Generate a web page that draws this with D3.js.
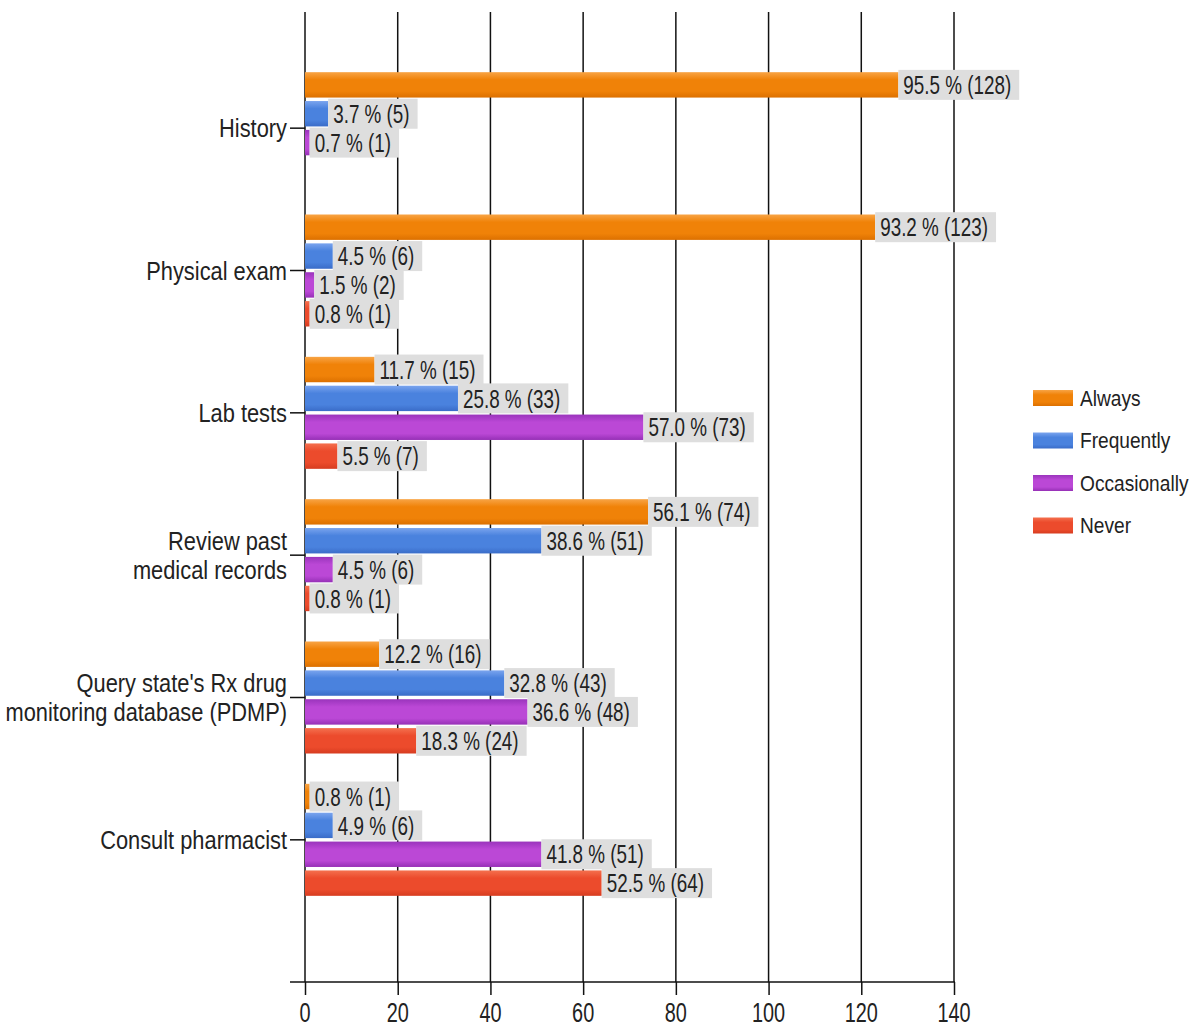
<!DOCTYPE html>
<html>
<head>
<meta charset="utf-8">
<script src="https://cdn.jsdelivr.net/npm/d3@7"></script>
<style>
  html, body { margin: 0; padding: 0; background: #fff; }
  svg { display: block; }
  .lbl { font-family: "Liberation Sans", Arial, sans-serif; fill: #222; }
</style>
</head>
<body>
<svg id="chart" width="1196" height="1029"></svg>
<script>
// Survey items (y axis)
const categories = [
  ["History"],
  ["Physical exam"],
  ["Lab tests"],
  ["Review past", "medical records"],
  ["Query state's Rx drug", "monitoring database (PDMP)"],
  ["Consult pharmacist"]
];

const seriesNames = ["Always", "Frequently", "Occasionally", "Never"];
const seriesColors = {
  Always:       ["#f8a445", "#f08208", "#dc7000"],
  Frequently:   ["#7aa4ee", "#4a82de", "#3a6cc8"],
  Occasionally: ["#9a34bc", "#bb48d6", "#9630b6"],
  Never:        ["#f4704e", "#ec4b2c", "#d63c20"]
};

// Percent of respondents per answer
const alwaysPct       = [95.5, 93.2, 11.7, 56.1, 12.2, 0.8];
const frequentlyPct   = [3.7, 4.5, 25.8, 38.6, 32.8, 4.9];
const occasionallyPct = [0.7, 1.5, 57.0, 4.5, 36.6, 41.8];
const neverPct        = [null, 0.8, 5.5, 0.8, 18.3, 52.5];

// Respondent counts per answer (bar length)
const alwaysN       = [128, 123, 15, 74, 16, 1];
const frequentlyN   = [5, 6, 33, 51, 43, 6];
const occasionallyN = [1, 2, 73, 6, 48, 51];
const neverN        = [null, 1, 7, 1, 24, 64];

const xTicks = [0, 20, 40, 60, 80, 100, 120, 140];

const pctBySeries = { Always: alwaysPct, Frequently: frequentlyPct, Occasionally: occasionallyPct, Never: neverPct };
const nBySeries   = { Always: alwaysN, Frequently: frequentlyN, Occasionally: occasionallyN, Never: neverN };

const svg = d3.select("#chart");
const catKeys = categories.map(c => c.join(" "));

const x = d3.scaleLinear().domain([0, 140]).range([305, 954]);
const y = d3.scaleBand().domain(catKeys).range([57, 911]).paddingInner(0).paddingOuter(0);
const ySub = d3.scaleBand().domain(seriesNames).range([-56, 56]).paddingInner(0.12);

const plotTop = 12, plotBottom = 982;

// narrow text helper: a group positioned at (tx, ty), squeezed horizontally
function narrowText(parent, tx, ty, size, squeeze, anchor, str) {
  const g = parent.append("g").attr("transform", `translate(${tx},${ty}) scale(${squeeze},1)`);
  return g.append("text").attr("class", "lbl").style("font-size", size + "px")
    .attr("text-anchor", anchor).attr("dy", "0.35em").text(str);
}

// gradients
const defs = svg.append("defs");
seriesNames.forEach((s, i) => {
  const g = defs.append("linearGradient").attr("id", "grad" + i)
    .attr("x1", 0).attr("y1", 0).attr("x2", 0).attr("y2", 1);
  const c = seriesColors[s];
  g.append("stop").attr("offset", "0%").attr("stop-color", c[0]);
  g.append("stop").attr("offset", "30%").attr("stop-color", c[1]);
  g.append("stop").attr("offset", "75%").attr("stop-color", c[1]);
  g.append("stop").attr("offset", "100%").attr("stop-color", c[2]);
});

// vertical grid lines
svg.append("g").selectAll("line").data(xTicks.slice(1)).join("line")
  .attr("x1", d => x(d)).attr("x2", d => x(d))
  .attr("y1", plotTop).attr("y2", plotBottom)
  .attr("stroke", "#111").attr("stroke-width", 1.5);

// x axis
const xAxis = svg.append("g").attr("transform", `translate(0,${plotBottom})`)
  .call(d3.axisBottom(x).tickValues(xTicks).tickSize(13).tickFormat(""));
xAxis.select(".domain").remove();
xAxis.selectAll(".tick line").attr("stroke", "#111").attr("stroke-width", 1.5);
xTicks.forEach(v => narrowText(svg, x(v), 1012, 28, 0.71, "middle", String(v)));
svg.append("line").attr("x1", 290).attr("x2", x(140) + 1)
  .attr("y1", plotBottom).attr("y2", plotBottom)
  .attr("stroke", "#111").attr("stroke-width", 1.5);

// y axis
svg.append("line").attr("x1", x(0)).attr("x2", x(0))
  .attr("y1", plotTop).attr("y2", plotBottom)
  .attr("stroke", "#111").attr("stroke-width", 1.5);

const yAxisG = svg.append("g");
categories.forEach((lines, i) => {
  const cy = y(catKeys[i]) + y.bandwidth() / 2;
  yAxisG.append("line").attr("x1", 290).attr("x2", x(0))
    .attr("y1", cy).attr("y2", cy).attr("stroke", "#111").attr("stroke-width", 1.5);
  const lh = 29;
  lines.forEach((ln, j) => {
    narrowText(yAxisG, 287, cy + (j - (lines.length - 1) / 2) * lh, 26, 0.84, "end", ln);
  });
});

// bars and value labels
const rows = [];
catKeys.forEach((k, i) => {
  seriesNames.forEach((s, si) => {
    const n = nBySeries[s][i];
    if (n == null) return;
    rows.push({ cat: k, series: s, si, n, pct: pctBySeries[s][i] });
  });
});

const barG = svg.append("g");
barG.selectAll("rect").data(rows).join("rect")
  .attr("x", x(0))
  .attr("y", d => y(d.cat) + y.bandwidth() / 2 + ySub(d.series))
  .attr("width", d => x(d.n) - x(0))
  .attr("height", ySub.bandwidth())
  .attr("fill", d => `url(#grad${d.si})`);

const labG = svg.append("g");
const LAB_SQ = 0.725;
rows.forEach(d => {
  const cy = y(d.cat) + y.bandwidth() / 2 + ySub(d.series) + ySub.bandwidth() / 2;
  const x0 = x(d.n);
  const g = labG.append("g");
  const box = g.append("rect").attr("fill", "#dedede");
  const t = narrowText(g, x0 + 5, cy, 26, LAB_SQ, "start", `${d.pct.toFixed(1)} % (${d.n})`);
  const w = t.node().getComputedTextLength() * LAB_SQ;
  box.attr("x", x0).attr("y", cy - 15).attr("width", w + 13).attr("height", 30);
});

// legend
const leg = svg.append("g");
seriesNames.forEach((s, i) => {
  const cy = 398 + i * 42.5;
  leg.append("rect").attr("x", 1033).attr("y", cy - 8).attr("width", 40).attr("height", 16)
    .attr("fill", `url(#grad${i})`);
  narrowText(leg, 1080, cy, 22, 0.87, "start", s);
});
</script>
</body>
</html>
